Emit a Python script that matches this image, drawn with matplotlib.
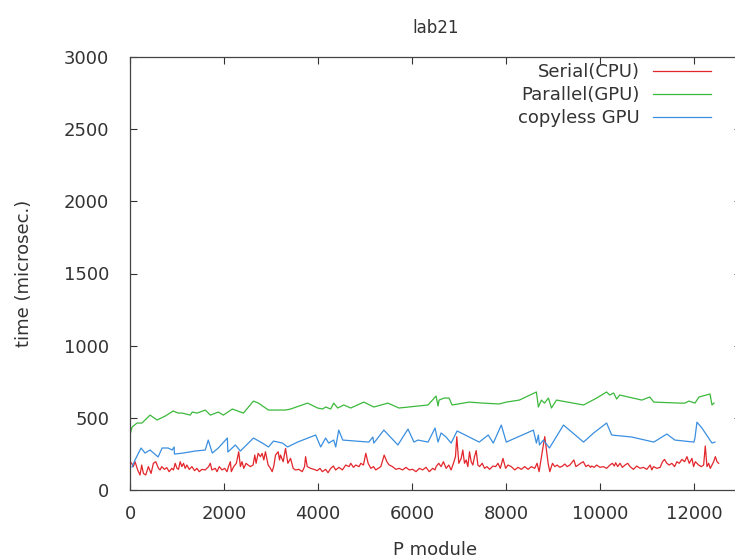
import matplotlib
matplotlib.use("Agg")
import matplotlib.pyplot as plt

# ---- data ----
serial_x = [0, 35, 71, 107, 163, 213, 249, 285, 335, 391,
            448, 498, 548, 605, 640, 676, 733, 783, 833, 890,
            925, 961, 1000, 1032, 1068, 1103, 1139, 1174, 1210, 1260,
            1317, 1374, 1423, 1473, 1530, 1601, 1672, 1708, 1743, 1815,
            1850, 1900, 1957, 2014, 2064, 2100, 2135, 2156, 2206, 2263,
            2313, 2349, 2384, 2420, 2470, 2512, 2562, 2619, 2655, 2683,
            2726, 2776, 2811, 2847, 2882, 2939, 2989, 3025, 3060, 3096,
            3153, 3181,
            3202, 3259, 3309, 3359, 3416, 3472, 3522, 3593, 3665, 3714,
            3736, 3771, 3843, 3914, 3985, 4042, 4092, 4163, 4213, 4270,
            4326, 4376, 4447, 4519, 4590, 4661, 4697, 4754, 4803, 4875,
            4910, 4967, 5017, 5067, 5124, 5181, 5230, 5280, 5337, 5408,
            5465, 5515, 5586, 5657, 5729, 5800, 5871, 5942, 6013, 6085,
            6156, 6227, 6298, 6369, 6440, 6490,
            6512, 6569, 6619, 6669, 6726, 6782, 6832, 6882, 6925, 6953,
            6996, 7046, 7081, 7117, 7153, 7188, 7224, 7259, 7295, 7330,
            7366, 7402, 7437, 7494, 7544, 7594, 7651, 7722, 7779, 7829,
            7879, 7935, 7992, 8042, 8113, 8185, 8256, 8327, 8398, 8469,
            8540, 8611, 8661, 8704, 8754, 8789, 8825, 8861, 8896, 8932,
            8989, 9038, 9088, 9145, 9202, 9252, 9302, 9359, 9416, 9444,
            9487, 9537, 9587, 9644, 9700, 9750, 9800,
            9821, 9878, 9928, 9999, 10070, 10141, 10212, 10262, 10305, 10333,
            10376, 10426, 10476, 10533, 10590, 10640, 10711, 10782, 10853, 10924,
            10995, 11067, 11102, 11138, 11209, 11280, 11330, 11372, 11422, 11472,
            11529, 11586, 11636, 11686, 11743, 11800, 11849, 11899, 11956, 11991,
            12027, 12063, 12098, 12155, 12205, 12240, 12276, 12311, 12347, 12383,
            12418, 12454, 12490, 12525]
serial_y = [194, 185, 162, 196, 139, 104, 173, 115, 104, 162,
            115, 185, 196, 150, 139, 162, 143, 155, 127, 150,
            139, 185, 150, 143, 196, 162, 185, 150, 173, 143,
            162, 134, 150, 127, 143, 139, 162, 185, 139, 150,
            127, 162, 139, 150, 127, 166, 196, 127, 162, 185,
            265, 162, 196, 150, 185, 173, 162, 173, 242, 185,
            254, 231, 254, 208, 265, 173, 150, 127, 166, 242,
            265, 208,
            242, 196, 288, 185, 219, 150, 139, 143, 127, 162,
            231, 162, 150, 143, 134, 150, 127, 143, 120, 150,
            166, 139, 157, 139, 173, 162, 185, 157, 173, 162,
            185, 173, 254, 185, 150, 162, 139, 150, 162, 242,
            196, 173, 162, 143, 150, 139, 157, 139, 143, 127,
            150, 139, 157, 127, 150, 139,
            162, 185, 162, 196, 150, 173, 139, 185, 231, 369,
            185, 219, 277, 185, 208, 162, 265, 196, 173, 231,
            273, 173, 162, 185, 150, 162, 143, 166, 162, 185,
            150, 219, 150, 173, 162, 139, 157, 143, 162, 143,
            162, 150, 185, 127, 231, 300, 370, 277, 185, 127,
            185, 162, 173, 157, 166, 180, 162, 173, 196, 208,
            162, 173, 185, 196, 162, 173, 157,
            166, 157, 173, 157, 162, 150, 173, 185, 166, 189,
            162, 185, 157, 173, 185, 162, 143, 166, 150, 157,
            143, 173, 139, 162, 150, 157, 196, 212, 185, 173,
            185, 162, 196, 185, 212, 196, 231, 185, 219, 162,
            196, 185, 173, 162, 173, 305, 162, 185, 150, 173,
            196, 231, 196, 185]

parallel_x = [0, 43, 149, 256, 320, 427, 576, 747, 918, 1025,
              1110, 1281, 1324, 1430, 1601, 1708, 1879, 1986, 2178, 2413,
              2626, 2733, 2946, 3309, 3416, 3779, 3992, 4099, 4163, 4270,
              4334, 4420, 4548, 4697, 4975, 5188, 5487, 5722, 6341, 6512,
              6554, 6576, 6683, 6789, 6853, 7216, 7515, 7857, 8006, 8284,
              8647, 8689, 8753, 8818, 8903, 8967, 9074, 9650, 9928, 10141,
              10205, 10291, 10355, 10419, 10889, 11059, 11145, 11700, 11807, 11892,
              11956, 12020, 12105, 12340, 12383, 12426]
parallel_y = [381, 436, 464, 464, 485, 519, 485, 512, 547, 533,
              533, 519, 540, 533, 554, 519, 540, 519, 561, 533,
              616, 602, 554, 554, 561, 602, 568, 561, 575, 561,
              602, 568, 589, 568, 609, 575, 602, 568, 589, 651,
              582, 623, 637, 637, 589, 609, 602, 596, 609, 623,
              679, 575, 623, 602, 637, 568, 623, 589, 637, 679,
              658, 672, 630, 658, 623, 644, 609, 602, 602, 616,
              609, 602, 644, 665, 589, 602]

copyless_x = [43, 107, 235, 320, 427, 598, 683, 811, 897, 939,
              945, 1132, 1388, 1601, 1665, 1751, 1879, 2071, 2082, 2242,
              2349, 2626, 2818, 2946, 3053, 3245, 3352, 3565, 3950, 4057,
              4163, 4227, 4334, 4377, 4441, 4526, 5081, 5167, 5188, 5401,
              5700, 5914, 6042, 6127, 6341, 6490, 6554, 6619, 6725, 6832,
              6960, 7430, 7622, 7729, 7900, 8006, 8583, 8647, 8689, 8711,
              8796, 8924, 9223, 9650, 9864, 10141, 10248, 10675, 11145, 11422,
              11593, 11999, 12020, 12063, 12170, 12383, 12447]
copyless_y = [159, 208, 291, 256, 277, 229, 291, 291, 277, 298,
              249, 256, 270, 277, 346, 256, 291, 360, 263, 312,
              270, 360, 325, 298, 339, 325, 298, 332, 381, 298,
              360, 325, 346, 298, 415, 346, 332, 367, 325, 415,
              312, 422, 332, 346, 332, 429, 332, 395, 367, 325,
              409, 332, 381, 325, 450, 332, 415, 325, 381, 312,
              346, 291, 450, 332, 395, 464, 381, 367, 332, 388,
              346, 332, 360, 470, 429, 325, 332]

labels = ["Serial(CPU)", "Parallel(GPU)", "copyless GPU"]
xticks = [0, 2000, 4000, 6000, 8000, 10000, 12000]
yticks = [0, 500, 1000, 1500, 2000, 2500, 3000]

# ---- plot ----
W, H = 735, 560
fig = plt.figure(figsize=(W / 100, H / 100), dpi=100)
ax = fig.add_axes([130 / W, (H - 490) / H, (741 - 130) / W, (490 - 57) / H])

txt = "#333333"
ax.plot(serial_x, serial_y, color="#e3262b", lw=0.9, label=labels[0])
ax.plot(parallel_x, parallel_y, color="#3cb93c", lw=0.9, label=labels[1])
ax.plot(copyless_x, copyless_y, color="#3a8fe0", lw=0.9, label=labels[2])

ax.set_xlim(0, 13000)
ax.set_ylim(0, 3000)
ax.set_xticks(xticks)
ax.set_yticks(yticks)
ax.tick_params(direction="in", length=5, width=0.8, top=True, right=True,
               labelsize=13, colors=txt)
ax.tick_params(axis="x", pad=11)
ax.tick_params(axis="y", pad=15)
for s in ax.spines.values():
    s.set_color("#444444")
    s.set_linewidth(0.9)

ax.set_title("lab21", fontsize=12, color=txt, pad=17)
ax.set_xlabel("P module", fontsize=13, color=txt, labelpad=13)
ax.set_ylabel("time (microsec.)", fontsize=13, color=txt, labelpad=22)

leg = ax.legend(loc="upper right", bbox_to_anchor=(711 / W, (H - 63) / H),
                bbox_transform=fig.transFigure, frameon=False, markerfirst=False,
                fontsize=13, handlelength=3.2, handletextpad=0.75, labelspacing=0.28,
                borderaxespad=0, borderpad=0)
for t in leg.get_texts():
    t.set_color(txt)

fig.savefig("out.png", dpi=100)
